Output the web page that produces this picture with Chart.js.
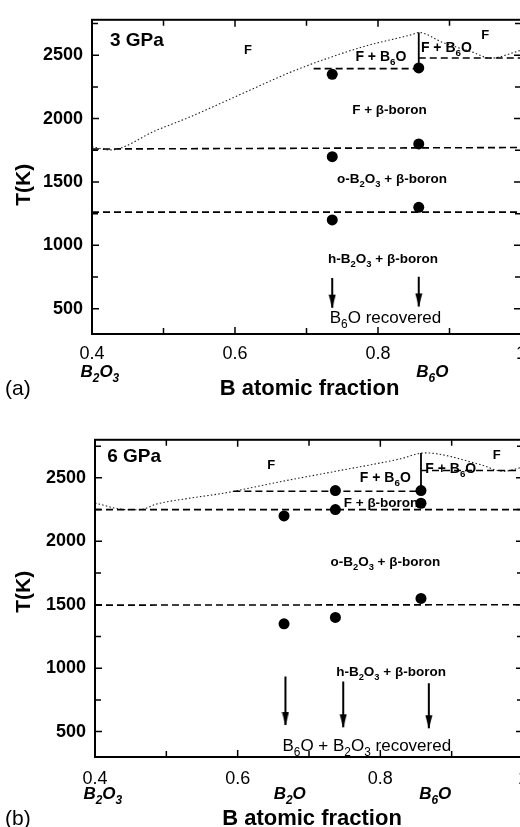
<!DOCTYPE html>
<html>
<head>
<meta charset="utf-8">
<script src="https://cdn.jsdelivr.net/npm/chart.js@4.4.0/dist/chart.umd.min.js"></script>
<style>
html, body { margin: 0; padding: 0; background: #fff; overflow: hidden; width: 520px; height: 827px; }
canvas { position: absolute; left: 0; }
#chartA { top: 0; }
#chartB { top: 420px; }
</style>
</head>
<body>
<canvas id="chartA" width="540" height="410"></canvas>
<canvas id="chartB" width="540" height="407"></canvas>
<script>
var SANS = '"Liberation Sans", Arial, Helvetica, sans-serif';

// axes (shared)
var xTicks = [0.4, 0.5, 0.6, 0.7, 0.8, 0.9, 1];
var xTickText = ['0.4', '', '0.6', '', '0.8', '', '1'];
var yTicks = [500, 750, 1000, 1250, 1500, 1750, 2000, 2250, 2500, 2750];
var yTickText = ['500', '', '1000', '', '1500', '', '2000', '', '2500', ''];

// (a) 3 GPa
var aDotX = [0.736, 0.857, 0.857, 0.736, 0.736, 0.857];
var aDotY = [2350, 2400, 1800, 1700, 1200, 1300];
var aLiqX = [0.4, 0.425, 0.4905, 0.537, 0.584, 0.63, 0.677, 0.733, 0.784, 0.849, 0.857, 0.891, 0.933, 0.957, 0.994, 1.0];
var aLiqY = [1778, 1753, 1909, 2013, 2131, 2248, 2365, 2483, 2575, 2666, 2680, 2600, 2523, 2477, 2529, 2540];
var aDashes = [[0.4, 1.0, 1760, 1772], [0.4, 1.0, 1262, 1262], [0.71, 0.857, 2395, 2395], [0.857, 1.0, 2478, 2478]];
var aTieX = 0.857, aTieY = [2400, 2680];
var aArrowX = [0.736, 0.857];
var aArrowFrom = [742, 752];
var aArrowTo = [508, 518];

// (b) 6 GPa
var bDotX = [0.665, 0.737, 0.737, 0.857, 0.857, 0.857, 0.665, 0.737];
var bDotY = [2200, 2400, 2250, 2400, 2300, 1550, 1350, 1400];
var bLiqX = [0.4, 0.445, 0.463, 0.486, 0.533, 0.58, 0.627, 0.673, 0.73, 0.828, 0.862, 0.94, 0.972, 1.0];
var bLiqY = [2301, 2249, 2249, 2293, 2340, 2379, 2432, 2484, 2544, 2650, 2697, 2605, 2552, 2585];
var bDashes = [[0.4, 1.0, 2250, 2250], [0.4, 1.0, 1497, 1500], [0.594, 0.857, 2395, 2395], [0.857, 1.0, 2558, 2558]];
var bTieX = 0.857, bTieY = [2400, 2696];
var bArrowX = [0.667, 0.748, 0.868];
var bArrowFrom = [934, 895, 882];
var bArrowTo = [552, 534, 527];

// arrow head used as a point style, tip at the image centre
var arrowHead = document.createElement('canvas');
arrowHead.width = 8; arrowHead.height = 28;
(function () {
  var c = arrowHead.getContext('2d');
  c.fillStyle = '#000';
  c.beginPath(); c.moveTo(0.5, 1); c.lineTo(7.5, 1); c.lineTo(4, 14.5); c.closePath(); c.fill();
})();

// text with "_x" = subscript x; y is the middle of the capitals
function drawRich(ctx, text, x, y, o) {
  var parts = [];
  for (var i = 0; i < text.length; i++) {
    if (text[i] === '_') { parts.push([text[i + 1], true]); i++; }
    else if (parts.length && !parts[parts.length - 1][1]) parts[parts.length - 1][0] += text[i];
    else parts.push([text[i], false]);
  }
  var fam = o.family || SANS;
  var pre = (o.italic ? 'italic ' : '') + (o.bold ? 'bold ' : '');
  var main = pre + o.size + 'px ' + fam;
  var sub = pre + (o.size * 0.7).toFixed(1) + 'px ' + fam;
  ctx.save();
  ctx.fillStyle = '#000';
  ctx.textAlign = 'left';
  ctx.textBaseline = 'alphabetic';
  var w = 0, ws = [];
  parts.forEach(function (p) { ctx.font = p[1] ? sub : main; var m = ctx.measureText(p[0]).width; ws.push(m); w += m; });
  var cx = o.align === 'left' ? x : x - w / 2;
  var base = y + o.size * 0.36;
  parts.forEach(function (p, k) {
    ctx.font = p[1] ? sub : main;
    ctx.fillText(p[0], cx, p[1] ? base + o.size * 0.3 : base);
    cx += ws[k];
  });
  ctx.restore();
}

var decor = {
  id: 'decor',
  afterDatasetsDraw: function (chart, args, opt) {
    var ctx = chart.ctx, a = chart.chartArea, xs = chart.scales.x, ys = chart.scales.y;
    ctx.save();
    ctx.strokeStyle = '#000';
    ctx.lineWidth = 2;
    ctx.strokeRect(a.left, a.top, a.right - a.left, a.bottom - a.top);
    ctx.lineWidth = 1.5;
    ctx.beginPath();
    xTicks.forEach(function (v, i) {
      var px = xs.getPixelForValue(v), len = xTickText[i] ? 7 : 6;
      ctx.moveTo(px, a.bottom); ctx.lineTo(px, a.bottom - len);
      ctx.moveTo(px, a.top); ctx.lineTo(px, a.top + len);
    });
    yTicks.forEach(function (v, i) {
      var py = ys.getPixelForValue(v), len = yTickText[i] ? 7 : 6;
      ctx.moveTo(a.left, py); ctx.lineTo(a.left + len, py);
      ctx.moveTo(a.right, py); ctx.lineTo(a.right - len, py);
    });
    ctx.stroke();
    ctx.restore();

    opt.labels.forEach(function (l) {
      drawRich(ctx, l.t, xs.getPixelForValue(l.x), ys.getPixelForValue(l.y), l);
    });
    opt.compounds.forEach(function (l) {
      drawRich(ctx, l.t, xs.getPixelForValue(l.x), a.bottom + opt.compoundDy, {size: 17, bold: true, italic: true});
    });
    drawRich(ctx, 'B atomic fraction', (a.left + a.right) / 2 + 3, a.bottom + opt.titleDy, {size: 22, bold: true});
    drawRich(ctx, opt.tag, 5, a.bottom + opt.titleDy, {size: 21, align: 'left'});
    ctx.save();
    ctx.translate(22, a.top + opt.yTitleDy);
    ctx.rotate(-Math.PI / 2);
    drawRich(ctx, 'T(K)', 0, 0, {size: 21, bold: true});
    ctx.restore();
  }
};

function pts(xs, ys) { return xs.map(function (x, i) { return {x: x, y: ys[i]}; }); }

function makePanel(id, p) {
  var sets = [];
  sets.push({data: pts(p.dotX, p.dotY), showLine: false, pointRadius: 5.5, pointBackgroundColor: '#000', pointBorderWidth: 0});
  p.arrowX.forEach(function (x, i) {
    sets.push({data: [{x: x, y: p.arrowFrom[i]}, {x: x, y: p.arrowTo[i]}], showLine: true, borderColor: '#000', borderWidth: 2,
      pointRadius: [0, 6], pointStyle: ['circle', arrowHead], pointBorderWidth: 0});
  });
  sets.push({data: [{x: p.tieX, y: p.tieY[0]}, {x: p.tieX, y: p.tieY[1]}], showLine: true, borderColor: '#000', borderWidth: 1.8, pointRadius: 0});
  p.dashes.forEach(function (d) {
    sets.push({data: [{x: d[0], y: d[2]}, {x: d[1], y: d[3]}], showLine: true, borderColor: '#000', borderWidth: 1.6, borderDash: [7, 4], pointRadius: 0});
  });
  sets.push({data: pts(p.liqX, p.liqY), showLine: true, borderColor: '#222', borderWidth: 1.1, borderDash: [1.5, 2.2],
    cubicInterpolationMode: 'monotone', pointRadius: 0});

  return new Chart(document.getElementById(id), {
    type: 'scatter',
    data: {datasets: sets},
    options: {
      responsive: false,
      animation: false,
      layout: {padding: {left: 0, top: p.padTop, right: p.padRight, bottom: 0}},
      plugins: {
        legend: {display: false},
        tooltip: {enabled: false},
        decor: {labels: p.labels, compounds: p.compounds, compoundDy: p.compoundDy, titleDy: p.titleDy, yTitleDy: p.yTitleDy, tag: p.tag}
      },
      scales: {
        x: {
          type: 'linear', min: 0.4, max: 1,
          afterBuildTicks: function (s) { s.ticks = xTicks.map(function (v) { return {value: v}; }); },
          afterFit: function (s) { s.height = p.xAxisH; },
          grid: {display: false, drawTicks: false},
          border: {display: false},
          ticks: {padding: p.xPad, autoSkip: false, maxRotation: 0, color: '#000', font: {family: SANS, size: 18},
            callback: function (v, i) { return xTickText[i]; }}
        },
        y: {
          type: 'linear', min: 300, max: p.yMax,
          afterBuildTicks: function (s) { s.ticks = yTicks.map(function (v) { return {value: v}; }); },
          afterFit: function (s) { s.width = p.yAxisW; },
          grid: {display: false, drawTicks: false},
          border: {display: false},
          ticks: {padding: 9, autoSkip: false, color: '#000', font: {family: SANS, size: 18, weight: 'bold'},
            callback: function (v, i) { return yTickText[i]; }}
        }
      }
    },
    plugins: [decor]
  });
}

makePanel('chartA', {
  dotX: aDotX, dotY: aDotY, liqX: aLiqX, liqY: aLiqY, dashes: aDashes, tieX: aTieX, tieY: aTieY,
  arrowX: aArrowX, arrowFrom: aArrowFrom, arrowTo: aArrowTo,
  yMax: 2780, padTop: 17, padRight: 19, xAxisH: 76, yAxisW: 92, xPad: 9,
  compoundDy: 37, titleDy: 53, yTitleDy: 165, tag: '(a)',
  compounds: [{t: 'B_2O_3', x: 0.411}, {t: 'B_6O', x: 0.876}],
  labels: [
    {t: '3 GPa', x: 0.425, y: 2631, size: 19, bold: true, align: 'left'},
    {t: 'F', x: 0.618, y: 2545, size: 13, bold: true},
    {t: 'F + B_6O', x: 0.804, y: 2498, size: 14, bold: true},
    {t: 'F + B_6O', x: 0.86, y: 2569, size: 14, bold: true, align: 'left'},
    {t: 'F', x: 0.95, y: 2663, size: 13, bold: true},
    {t: 'F + \u03b2-boron', x: 0.816, y: 2076, size: 13.5, bold: true},
    {t: 'o-B_2O_3 + \u03b2-boron', x: 0.8196, y: 1528, size: 13.5, bold: true},
    {t: 'h-B_2O_3 + \u03b2-boron', x: 0.807, y: 902, size: 13.5, bold: true},
    {t: 'B_6O recovered', x: 0.8105, y: 433, size: 17}
  ]
});

makePanel('chartB', {
  dotX: bDotX, dotY: bDotY, liqX: bLiqX, liqY: bLiqY, dashes: bDashes, tieX: bTieX, tieY: bTieY,
  arrowX: bArrowX, arrowFrom: bArrowFrom, arrowTo: bArrowTo,
  yMax: 2800, padTop: 18, padRight: 17, xAxisH: 70, yAxisW: 95, xPad: 11,
  compoundDy: 36, titleDy: 60, yTitleDy: 152, tag: '(b)',
  compounds: [{t: 'B_2O_3', x: 0.411}, {t: 'B_2O', x: 0.673}, {t: 'B_6O', x: 0.877}],
  labels: [
    {t: '6 GPa', x: 0.417, y: 2682, size: 19, bold: true, align: 'left'},
    {t: 'F', x: 0.647, y: 2604, size: 13, bold: true},
    {t: 'F + B_6O', x: 0.807, y: 2510, size: 14, bold: true},
    {t: 'F + B_6O', x: 0.863, y: 2581, size: 14, bold: true, align: 'left'},
    {t: 'F', x: 0.963, y: 2682, size: 13, bold: true},
    {t: 'F + \u03b2-boron', x: 0.801, y: 2306, size: 13.5, bold: true},
    {t: 'o-B_2O_3 + \u03b2-boron', x: 0.807, y: 1844, size: 13.5, bold: true},
    {t: 'h-B_2O_3 + \u03b2-boron', x: 0.815, y: 974, size: 13.5, bold: true},
    {t: 'B_6O + B_2O_3 recovered', x: 0.781, y: 394, size: 17}
  ]
});
</script>
</body>
</html>
